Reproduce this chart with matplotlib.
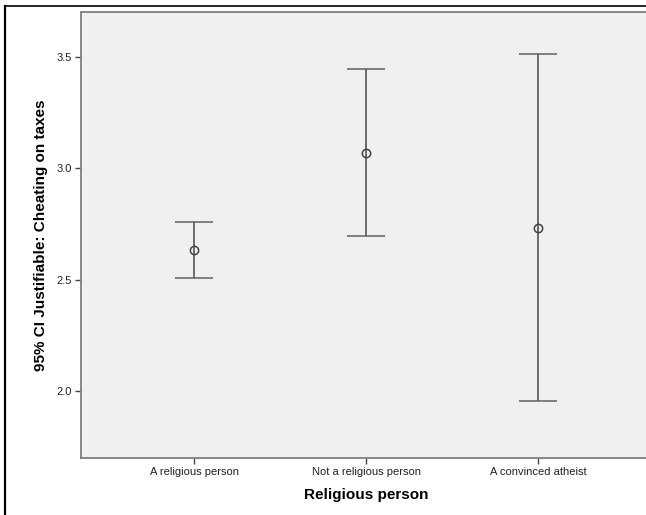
import matplotlib
matplotlib.use("Agg")
import matplotlib.pyplot as plt
from matplotlib.lines import Line2D
import numpy as np

plt.rcParams["font.family"] = ["Liberation Sans", "DejaVu Sans"]

# ---- data (SPSS style 95% CI plot) ----
categories = ["A religious person", "Not a religious person", "A convinced atheist"]
means = [2.633, 3.070, 2.733]
ci_low = [2.507, 2.696, 1.955]
ci_high = [2.759, 3.447, 3.513]
y_ticks = [2.0, 2.5, 3.0, 3.5]

W, H, DPI = 646, 515, 100
fig = plt.figure(figsize=(W / DPI, H / DPI), dpi=DPI)

# plot area runs a little past the right edge of the image, as in the original
left, right, bottom, top = 81, 651, 458, 12
ax = fig.add_axes([left / W, 1 - bottom / H, (right - left) / W, (bottom - top) / H])
ax.set_facecolor("#f0f0f0")

x = np.arange(len(categories))
means_a = np.array(means)
yerr = [means_a - np.array(ci_low), np.array(ci_high) - means_a]
ax.errorbar(x, means, yerr=yerr, fmt="o", color="#555555", ecolor="#606060",
            elinewidth=1.3, capsize=14, capthick=1.5, markersize=6,
            markerfacecolor="none", markeredgewidth=1.1, markeredgecolor="#444444")

ax.set_xlim(-0.657, 2.657)
ax.set_ylim(1.699, 3.702)
ax.set_xticks(x)
ax.set_xticklabels(categories, fontsize=8, color="#222222")
ax.set_yticks(y_ticks)
ax.set_yticklabels([f"{v:.1f}" for v in y_ticks], fontsize=8, color="#222222")
ax.tick_params(length=4, width=1, color="#444444", pad=2.5)

for side in ["left", "bottom", "top", "right"]:
    ax.spines[side].set_color("#7f7f7f")
    ax.spines[side].set_linewidth(1.3)

ax.set_xlabel("Religious person", fontsize=11, fontweight="bold", labelpad=8)
ax.set_ylabel("95% CI Justifiable: Cheating on taxes", fontsize=11,
              fontweight="bold", labelpad=6.5)

# outer frame (left + top black lines of the output viewer)
fig.add_artist(Line2D([5 / W, 5 / W], [0, 1 - 6 / H], transform=fig.transFigure,
                      color="black", lw=1.6))
fig.add_artist(Line2D([5 / W, 1], [1 - 6 / H, 1 - 6 / H], transform=fig.transFigure,
                      color="black", lw=1.2))

fig.savefig("out.png", dpi=DPI)
